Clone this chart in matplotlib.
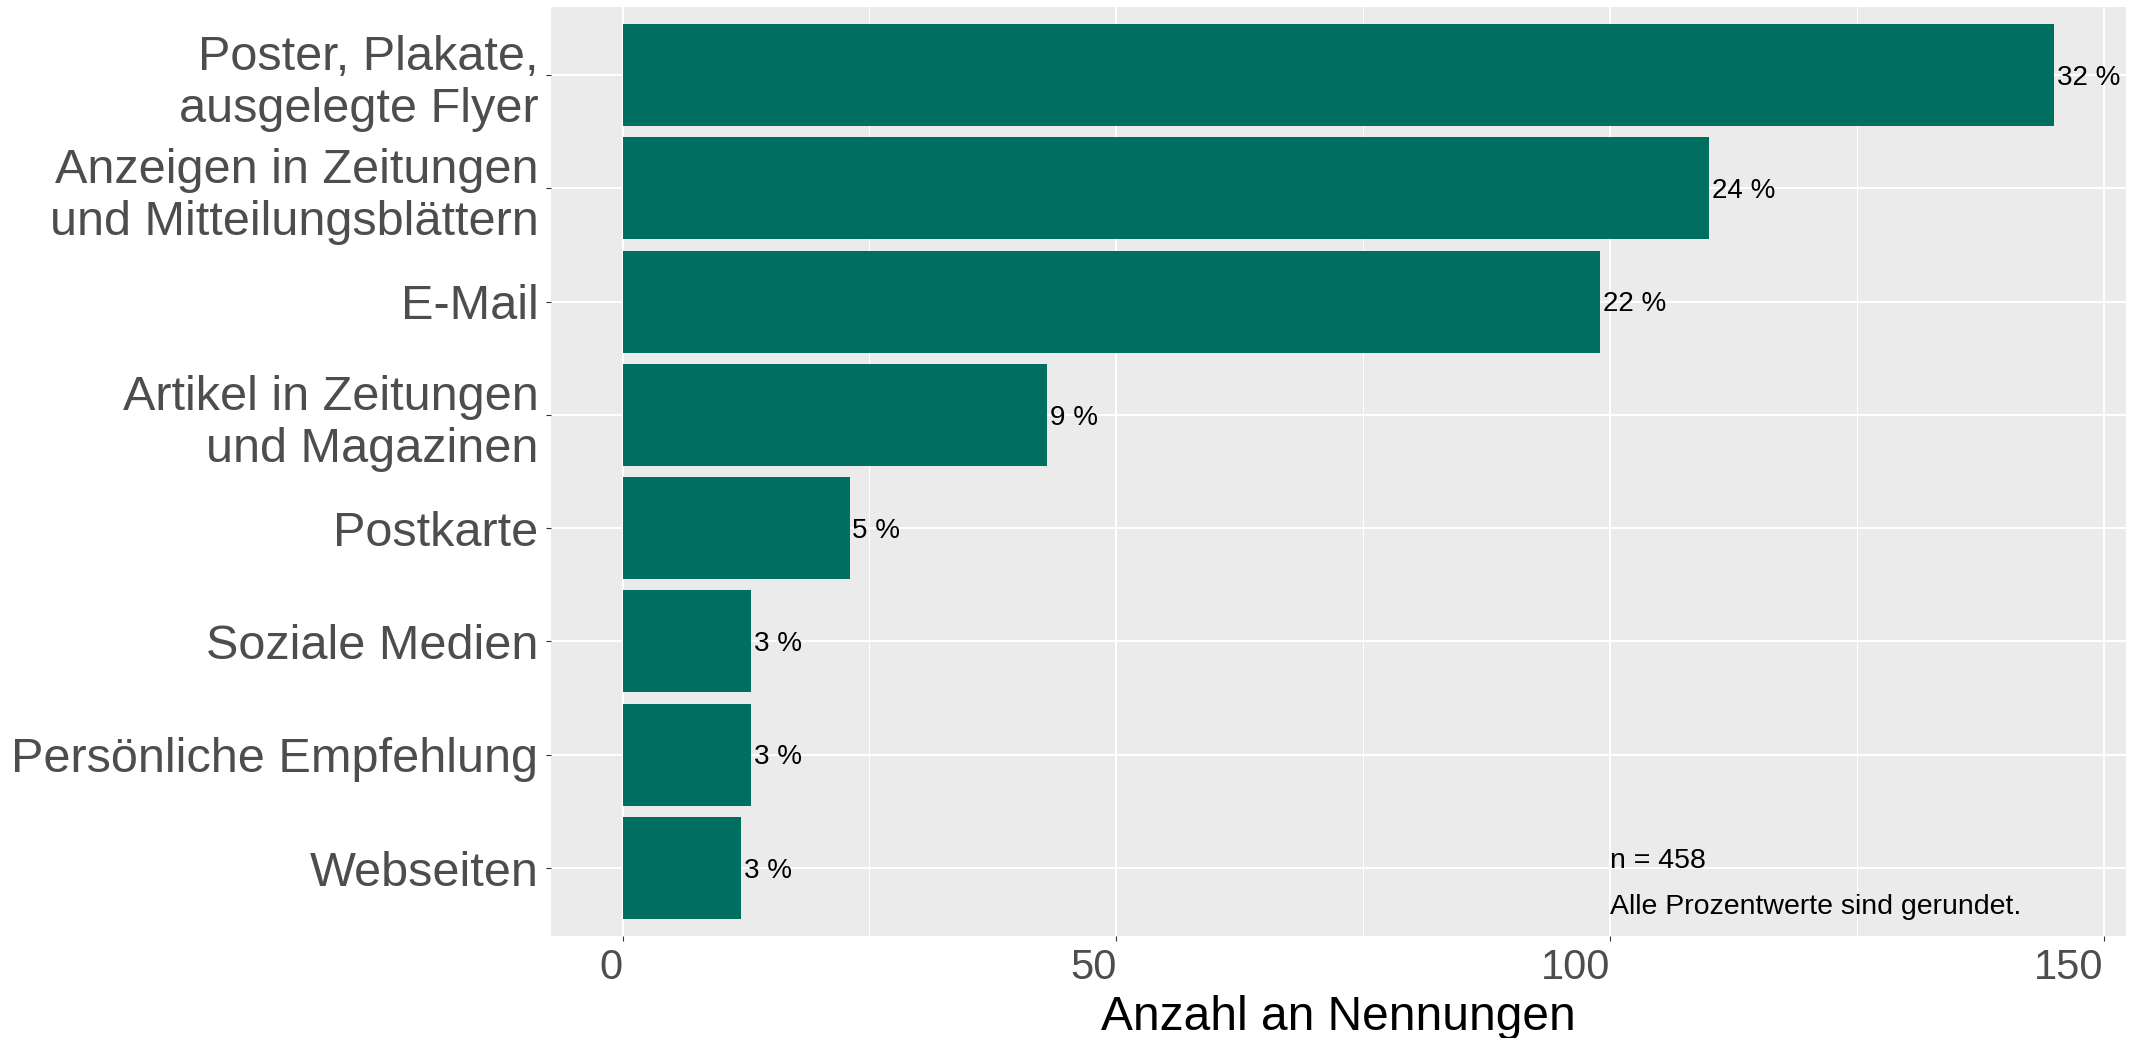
import matplotlib
matplotlib.use("Agg")
import matplotlib.pyplot as plt

plt.rcParams['font.family'] = ['Liberation Sans', 'DejaVu Sans']

# Kategorien von oben nach unten
kategorien = ["Poster, Plakate,\nausgelegte Flyer",
              "Anzeigen in Zeitungen\nund Mitteilungsblättern",
              "E-Mail",
              "Artikel in Zeitungen\nund Magazinen",
              "Postkarte",
              "Soziale Medien",
              "Persönliche Empfehlung",
              "Webseiten"]
nennungen = [145, 110, 99, 43, 23, 13, 13, 12]
x_ticks = [0, 50, 100, 150]
x_minor = [25, 75, 125]

n_gesamt = sum(nennungen)
prozent = [round(c / n_gesamt * 100) for c in nennungen]

gruen = '#006F62'
hintergrund = '#EBEBEB'
grau_text = '#4D4D4D'

W, H = 2134, 1038
fig = plt.figure(figsize=(W / 100, H / 100), dpi=100)
ax = fig.add_axes([551 / W, 1 - 936 / H, (2126 - 551) / W, (936 - 7) / H])
ax.set_facecolor(hintergrund)

pos = list(range(len(kategorien), 0, -1))
ax.barh(pos, nennungen, height=0.9, color=gruen, zorder=3)

for p, c, pr in zip(pos, nennungen, prozent):
    ax.annotate(f"{pr} %", xy=(c, p), xytext=(2, -7), textcoords='offset points',
                ha='left', va='baseline', fontsize=20, color='black', zorder=4)

ax.text(100, 1, f"n = {n_gesamt}", ha='left', va='baseline', fontsize=20.5, color='black', zorder=4)
ax.text(100, 0.59, "Alle Prozentwerte sind gerundet.", ha='left', va='baseline',
        fontsize=20.5, color='black', zorder=4)

ax.set_xlim(-7.25, 152.25)
ax.set_ylim(0.4, 8.6)
ax.set_xticks(x_ticks)
ax.set_xticks(x_minor, minor=True)
ax.set_yticks(pos)
ax.set_yticklabels(kategorien, fontsize=35, color=grau_text, linespacing=1.2)
ax.set_xticklabels([str(t) for t in x_ticks], fontsize=30, color=grau_text, ha='right')

ax.grid(which='major', color='white', linewidth=1.5, zorder=0)
ax.grid(which='minor', axis='x', color='white', linewidth=0.75, zorder=0)
ax.set_axisbelow(True)

ax.tick_params(axis='both', which='major', color='#333333', length=3.6, width=0.8)
ax.tick_params(axis='y', pad=5.5)
ax.tick_params(axis='x', pad=5)
ax.tick_params(axis='x', which='minor', length=0)

for s in ax.spines.values():
    s.set_visible(False)

ax.set_xlabel("Anzahl an Nennungen", fontsize=34.5, color='black', labelpad=5)

fig.savefig("out.png", dpi=100, facecolor='white')
